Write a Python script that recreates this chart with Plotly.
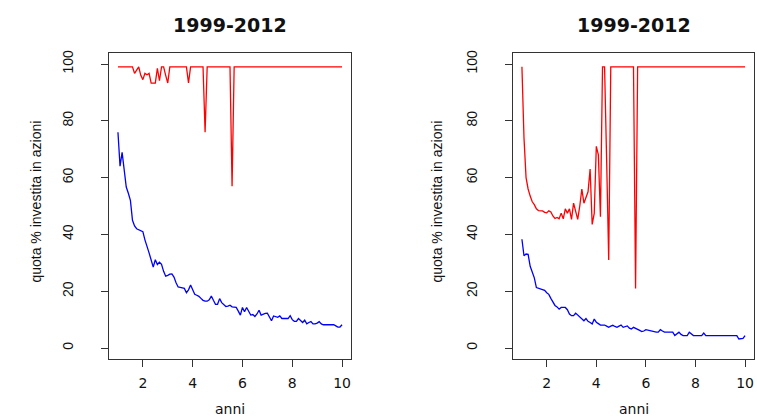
import plotly.graph_objects as go

# x values: monthly steps from 1 to 10 (anni)
anni = [1 + i / 12 for i in range(109)]

left_red = [
    99, 99, 99, 99, 99, 99, 99, 99, 96.7, 98, 99, 96,
    94.5, 96.7, 96.2, 96.7, 93.3, 93.3, 93.3, 98.5, 94.1, 99, 99, 96,
    93.3, 99, 99, 99, 99, 99, 99, 99, 99, 99, 93.3, 99,
    99, 99, 99, 99, 99, 99, 76, 99, 99, 99, 99, 99,
    99, 99, 99, 99, 99, 99, 99, 57, 99, 99, 99, 99,
    99, 99, 99, 99, 99, 99, 99, 99, 99, 99, 99, 99,
    99, 99, 99, 99, 99, 99, 99, 99, 99, 99, 99, 99,
    99, 99, 99, 99, 99, 99, 99, 99, 99, 99, 99, 99,
    99, 99, 99, 99, 99, 99, 99, 99, 99, 99, 99, 99,
    99,
]

left_blue = [
    76, 64, 68.9, 62, 56.7, 54.5, 52, 45, 43, 42, 41.6, 41.3,
    41, 38.1, 36, 33.5, 31, 28.5, 31.1, 29.4, 30.2, 29.5, 27, 25.3,
    25.6, 26, 26.1, 25, 23, 21.5, 21.4, 21.3, 21, 19.5, 20.5, 22.2,
    20.5, 18.9, 18.6, 18.2, 17.5, 16.8, 16.5, 16.5, 17, 18.3, 16.8, 15.4,
    15.4, 17.4, 16, 15.1, 14.6, 14.8, 15.1, 14.5, 14.5, 14.3, 13, 11.6,
    14.3, 12.8, 14.3, 13, 11.6, 11.8, 11.1, 12, 13.3, 11.6, 12, 12.2,
    12.3, 11, 9.6, 11.3, 11, 10.8, 11.3, 10.4, 10.4, 10.4, 10.4, 11.4,
    10, 9.4, 9.4, 10.4, 9.6, 9.0, 9.8, 8.5, 9, 9.3, 8.5, 8.5,
    8.8, 9.3, 8.5, 8.2, 8.2, 8.2, 8.2, 8.2, 8.2, 7.8, 7.4, 7.4,
    8.2,
]

right_red = [
    99, 74, 60, 56, 53.5, 51.5, 50.5, 49, 48.4, 48.3, 48.3, 47.8,
    47.6, 48.3, 47.9, 46.5, 45.6, 46, 45.5, 47.5, 45.5, 49, 47.5, 49,
    45.3, 51, 48, 45.3, 50, 56, 51, 53, 55, 63, 43.5, 47.4,
    71, 68, 46.2, 99, 99, 66, 31, 99, 99, 99, 99, 99,
    99, 99, 99, 99, 99, 99, 99, 21, 99, 99, 99, 99,
    99, 99, 99, 99, 99, 99, 99, 99, 99, 99, 99, 99,
    99, 99, 99, 99, 99, 99, 99, 99, 99, 99, 99, 99,
    99, 99, 99, 99, 99, 99, 99, 99, 99, 99, 99, 99,
    99, 99, 99, 99, 99, 99, 99, 99, 99, 99, 99, 99,
    99,
]

right_blue = [
    38.3, 32.5, 33.1, 33, 28.8, 26.5, 24.7, 21.3, 21, 20.7, 20.4, 20.3,
    19.5, 18.9, 17.5, 16, 15, 14.5, 13.7, 14.3, 14.3, 14.3, 13.5, 12,
    11.4, 11.4, 12.3, 11.6, 11, 10.2, 9.6, 10.4, 9.4, 9, 8.5, 10.2,
    9.1, 8.6, 8.1, 8.1, 8.1, 7.7, 7.3, 7.7, 8, 7.6, 7.3, 7.7,
    8.1, 7.3, 7.5, 7.8, 7, 6.7, 7.3, 7, 6.7, 6.2, 5.8, 6,
    6.5, 6.3, 6.1, 5.8, 5.6, 5.6, 5.6, 6.5, 6, 5.6, 5.6, 5.6,
    5.6, 5.6, 4.4, 5, 5.6, 4.8, 4.4, 4.4, 4.4, 5.6, 5, 4.4,
    4.4, 4.4, 4.4, 4.4, 5.3, 4.4, 4.4, 4.4, 4.4, 4.4, 4.4, 4.4,
    4.4, 4.4, 4.4, 4.4, 4.4, 4.4, 4.4, 4.4, 4.4, 3.2, 3.2, 3.4,
    4.4,
]

x_ticks = [2, 4, 6, 8, 10]
y_ticks = [0, 20, 40, 60, 80, 100]
title_text = "1999-2012"
x_title = "anni"
y_title = "quota % investita in azioni"

W, H = 757, 417
FONT = "Liberation Sans, Arial, sans-serif"
WIDE = "DejaVu Sans, sans-serif"

fig = go.Figure()

panels = [
    dict(xa="x", ya="y", red=left_red, blue=left_blue),
    dict(xa="x2", ya="y2", red=right_red, blue=right_blue),
]
for p in panels:
    fig.add_trace(go.Scatter(x=anni, y=p["red"], mode="lines", xaxis=p["xa"], yaxis=p["ya"],
                             line=dict(color="#FF0000", width=1.3), showlegend=False))
    fig.add_trace(go.Scatter(x=anni, y=p["blue"], mode="lines", xaxis=p["xa"], yaxis=p["ya"],
                             line=dict(color="#0000FF", width=1.3), showlegend=False))

# plot boxes in pixels: left (109..351), right (513..754), top 50, bottom 359
boxes = [(109, 351), (513, 754)]
top, bottom = 50, 359

common_x = dict(range=[0.64, 10.36], tickvals=x_ticks, ticks="outside", ticklen=7, tickwidth=1,
                tickcolor="#333", showline=True, linecolor="#333", linewidth=1, mirror=True,
                showgrid=False, zeroline=False, tickfont=dict(family=WIDE, size=14, color="#111"),
                ticklabelstandoff=4)
common_y = dict(range=[-4, 104], tickvals=y_ticks, ticks="outside", ticklen=7, tickwidth=1,
                tickcolor="#333", showline=True, linecolor="#333", linewidth=1, mirror=True,
                showgrid=False, zeroline=False, tickangle=-90,
                tickfont=dict(family=FONT, size=14, color="#111"), ticklabelstandoff=22)

layout = dict(width=W, height=H, margin=dict(l=0, r=0, t=0, b=0),
              paper_bgcolor="white", plot_bgcolor="white", showlegend=False)
yd = [1 - bottom / H, 1 - top / H]
layout["xaxis"] = dict(common_x, domain=[boxes[0][0] / W, boxes[0][1] / W], anchor="y")
layout["yaxis"] = dict(common_y, domain=yd, anchor="x")
layout["xaxis2"] = dict(common_x, domain=[boxes[1][0] / W, boxes[1][1] / W], anchor="y2")
layout["yaxis2"] = dict(common_y, domain=yd, anchor="x2")

annotations = []
for (l, r), ytx in zip(boxes, [36, 437]):
    cx = (l + r) / 2 / W
    annotations.append(dict(text="<b>" + title_text + "</b>", x=cx, y=1 - 22 / H, xref="paper", yref="paper",
                            showarrow=False, xanchor="center", yanchor="middle",
                            font=dict(family=WIDE, size=19, color="#111")))
    annotations.append(dict(text=x_title, x=cx, y=1 - 409 / H, xref="paper", yref="paper",
                            showarrow=False, xanchor="center", yanchor="middle",
                            font=dict(family=WIDE, size=14, color="#111")))
    annotations.append(dict(text=y_title, x=ytx / W, y=1 - 200 / H, xref="paper", yref="paper",
                            showarrow=False, xanchor="center", yanchor="middle", textangle=-90,
                            font=dict(family=FONT, size=14, color="#111")))
layout["annotations"] = annotations

fig.update_layout(**layout)
fig.write_html("out.html")
